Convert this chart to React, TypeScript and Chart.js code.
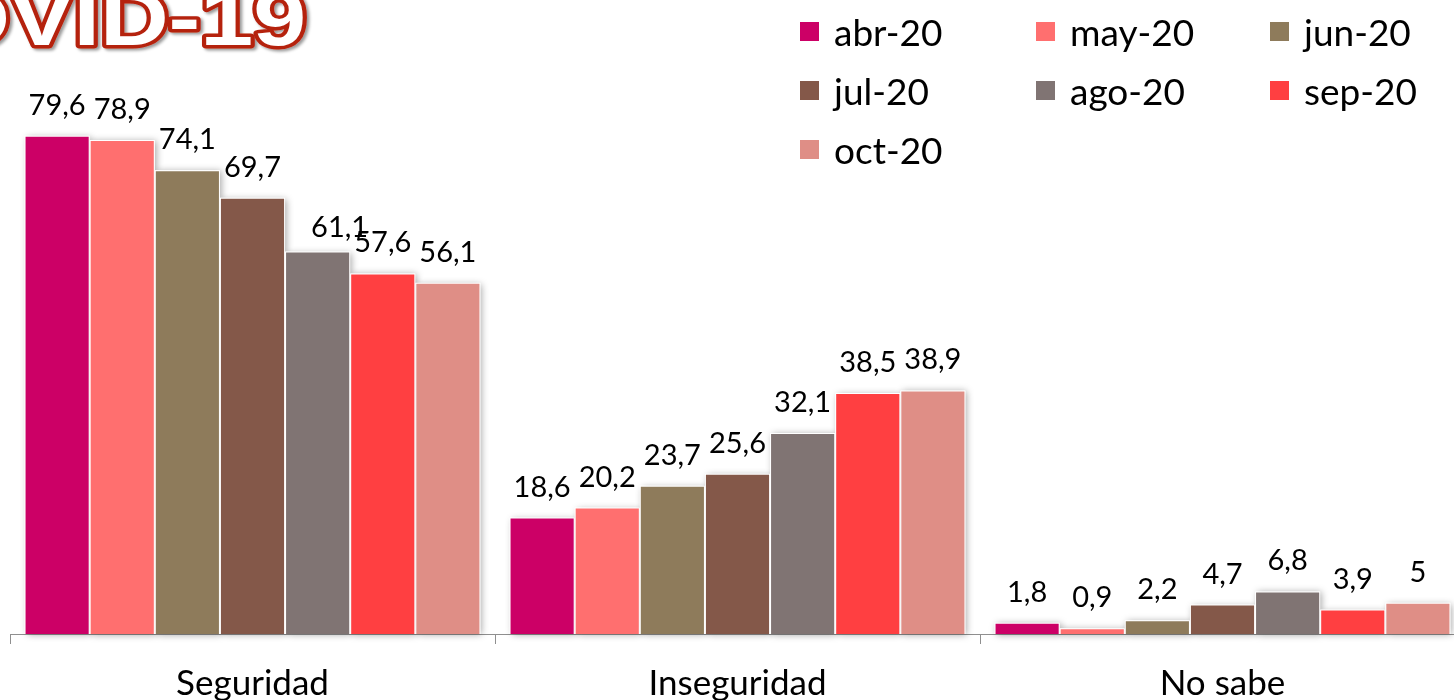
import React, { useEffect, useRef } from "react";
import { Chart, registerables } from "chart.js";

Chart.register(...registerables);

// ---- Data ----
const categories = ["Seguridad", "Inseguridad", "No sabe"];
const seriesNames = ["abr-20", "may-20", "jun-20", "jul-20", "ago-20", "sep-20", "oct-20"];
const abr20 = [79.6, 18.6, 1.8];
const may20 = [78.9, 20.2, 0.9];
const jun20 = [74.1, 23.7, 2.2];
const jul20 = [69.7, 25.6, 4.7];
const ago20 = [61.1, 32.1, 6.8];
const sep20 = [57.6, 38.5, 3.9];
const oct20 = [56.1, 38.9, 5];
const seriesValues = [abr20, may20, jun20, jul20, ago20, sep20, oct20];
const seriesColors = ["#CC0066", "#FF6F6F", "#8E7B5B", "#845849", "#807473", "#FF3F41", "#DF8E86"];
const yMin = 0;
const yMax = 100;
const titleText = "COVID-19";

// ---- Style / layout ----
const CANVAS_W = 1480;
const CANVAS_H = 700;
const FONT = "Lato, 'Open Sans', sans-serif";
const labelNudge: Record<string, [number, number]> = { "4-0": [22, 6] };
const legendCols = [800, 1036, 1270];
const legendRows = [31, 90, 149];
const TITLE_SIZE = 78;
const TITLE_SX = 1.22;

const fmt = (v: number) => String(v).replace(".", ",");

const barShadow = {
  id: "barShadow",
  beforeDatasetsDraw(chart: any) {
    const ctx = chart.ctx;
    ctx.save();
    ctx.shadowColor = "rgba(0,0,0,0.35)";
    ctx.shadowBlur = 7;
    ctx.shadowOffsetX = 2;
    ctx.shadowOffsetY = 1;
    ctx.fillStyle = "#ffffff";
    chart.data.datasets.forEach((_: any, di: number) => {
      chart.getDatasetMeta(di).data.forEach((el: any) => {
        const p = el.getProps(["x", "y", "base", "width"], true);
        ctx.fillRect(p.x - p.width / 2, p.y, p.width, p.base - p.y);
      });
    });
    ctx.restore();
  },
};

const valueLabels = {
  id: "valueLabels",
  afterDatasetsDraw(chart: any) {
    const ctx = chart.ctx;
    ctx.save();
    ctx.font = `29px ${FONT}`;
    ctx.fillStyle = "#000000";
    ctx.textAlign = "center";
    ctx.textBaseline = "alphabetic";
    chart.data.datasets.forEach((ds: any, di: number) => {
      chart.getDatasetMeta(di).data.forEach((el: any, i: number) => {
        const n = labelNudge[`${di}-${i}`] || [0, 0];
        ctx.fillText(fmt(ds.data[i]), el.x + n[0], el.y - 21 + n[1]);
      });
    });
    ctx.restore();
  },
};

function BarChart() {
  const ref = useRef<HTMLCanvasElement | null>(null);
  useEffect(() => {
    if (!ref.current) return;
    const chart = new Chart(ref.current, {
      type: "bar",
      data: {
        labels: categories,
        datasets: seriesNames.map((name, i) => ({
          label: name,
          data: seriesValues[i],
          backgroundColor: seriesColors[i],
          borderColor: "#ffffff",
          borderWidth: 1,
          categoryPercentage: 0.94,
          barPercentage: 1.0,
        })),
      },
      options: {
        responsive: false,
        maintainAspectRatio: false,
        animation: false,
        layout: { padding: { left: 10, right: CANVAS_W - 1465, top: 8, bottom: 0 } },
        plugins: {
          legend: { display: false },
          tooltip: { enabled: false },
        },
        scales: {
          x: {
            offset: true,
            grid: {
              offset: true,
              drawOnChartArea: false,
              drawTicks: true,
              tickLength: 10,
              color: "#8f8f8f",
              lineWidth: 1,
            },
            border: { display: true, color: "#8f8f8f", width: 1 },
            ticks: {
              color: "#000000",
              font: { family: FONT, size: 35 },
              padding: 19,
              maxRotation: 0,
              autoSkip: false,
            },
            afterFit(scale: any) {
              scale.height = 66;
            },
          },
          y: {
            display: false,
            min: yMin,
            max: yMax,
          },
        },
      },
      plugins: [barShadow, valueLabels],
    });
    return () => chart.destroy();
  }, []);
  return <canvas ref={ref} width={CANVAS_W} height={CANVAS_H} style={{ display: "block", width: CANVAS_W, height: CANVAS_H }} />;
}

export default function App() {
  const titleX = (10 - 1.5 * TITLE_SIZE * TITLE_SX) / TITLE_SX;
  return (
    <div style={{ position: "fixed", left: 0, top: 0, width: 1454, height: 700, overflow: "hidden", background: "#fff" }}>
      <div style={{ position: "absolute", left: 0, top: 0, width: CANVAS_W, height: CANVAS_H }}>
        <BarChart />
      </div>
      <svg width={420} height={80} style={{ position: "absolute", left: 0, top: 0, overflow: "visible" }}>
        <defs>
          <filter id="tshadow" x="-20%" y="-50%" width="140%" height="200%">
            <feDropShadow dx="2" dy="2" stdDeviation="1.5" floodColor="#000" floodOpacity="0.4" />
          </filter>
        </defs>
        <g transform={`scale(${TITLE_SX},1)`}>
          <text
            x={titleX}
            y={45}
            fontFamily="'Liberation Sans', Arial, sans-serif"
            fontWeight="bold"
            fontSize={TITLE_SIZE}
            fill="#ffffff"
            stroke="#B5200D"
            strokeWidth={7}
            strokeLinejoin="round"
            paintOrder="stroke"
            filter="url(#tshadow)"
          >
            {titleText}
          </text>
        </g>
      </svg>
      {seriesNames.map((name, i) => (
        <div
          key={name}
          style={{
            position: "absolute",
            left: legendCols[i % 3],
            top: legendRows[Math.floor(i / 3)] - 25,
            height: 50,
            display: "flex",
            alignItems: "center",
            fontFamily: FONT,
            fontSize: 37,
            lineHeight: 1,
            color: "#000",
            whiteSpace: "nowrap",
          }}
        >
          <span style={{ display: "inline-block", width: 19, height: 19, background: seriesColors[i], marginRight: 15 }} />
          <span>{name}</span>
        </div>
      ))}
    </div>
  );
}
